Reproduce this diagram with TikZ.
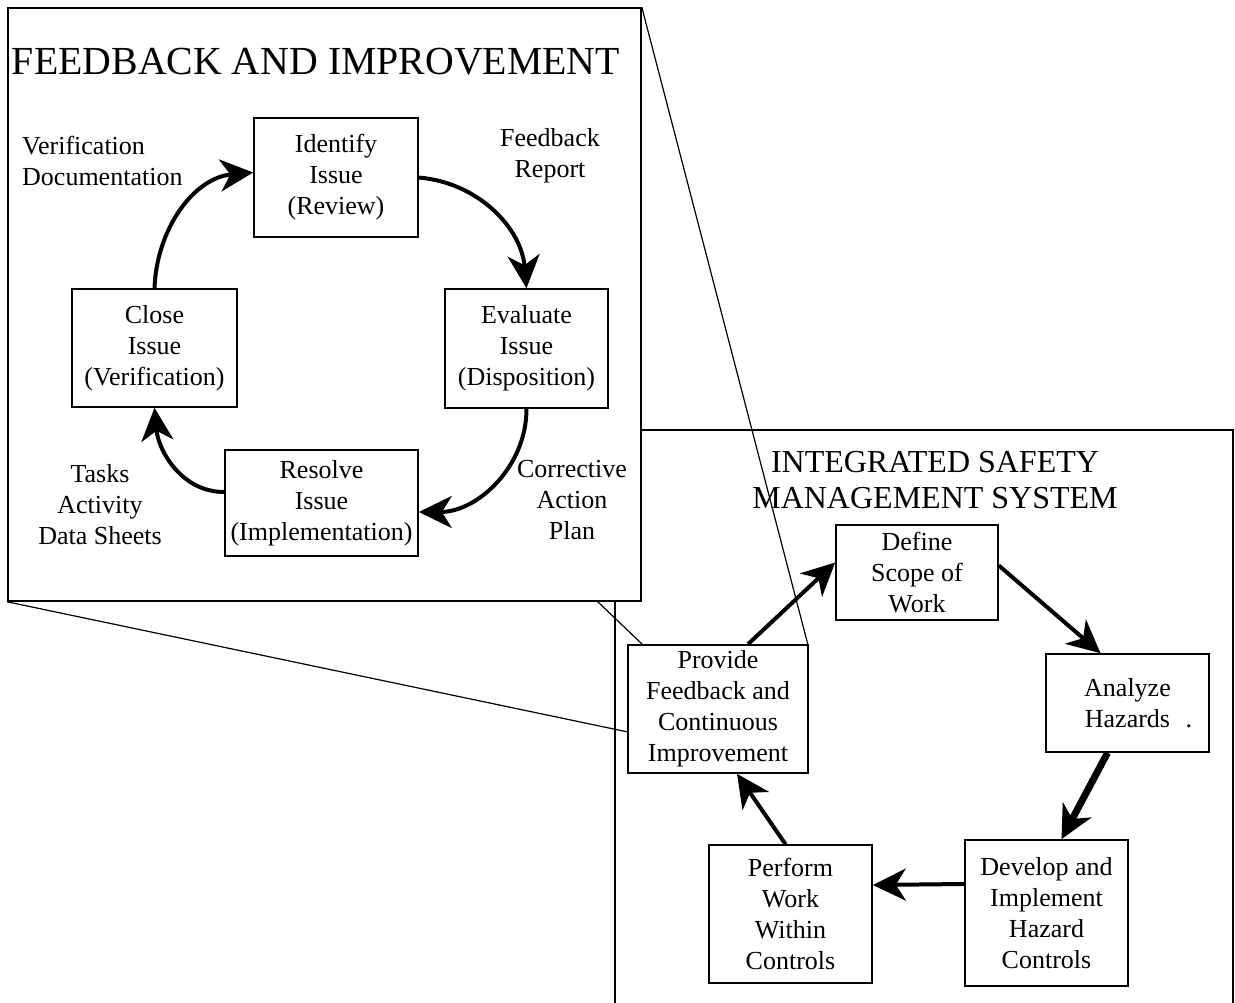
\documentclass[tikz,border=0pt]{standalone}
\usepackage{fontspec}
\setmainfont{Liberation Serif}
\usetikzlibrary{arrows.meta}
\usetikzlibrary{calc}
\usetikzlibrary{positioning}
\newcommand{\boxfont}{\fontsize{26}{31}\selectfont}
\newcommand{\bigtitlefont}{\fontsize{39.8}{48}\selectfont}
\newcommand{\ismstitlefont}{\fontsize{32}{36}\selectfont}

\begin{document}
\begin{tikzpicture}[x=1pt, y=-1pt,
    stepbox/.style={draw, fill=white, line width=1.6pt, align=center, font=\boxfont, inner sep=0pt},
    note/.style={align=center, font=\boxfont, inner sep=0pt},
    flow/.style={line width=4pt, -{Stealth[length=33pt, width=32pt, inset=10pt]}},
    zoomline/.style={line width=1.2pt}]
\useasboundingbox (0,0) rectangle (1235,1003);

% ISMS frame (open at the bottom)
\draw[line width=1.6pt] (615,1003) -- (615,430) -- (1233,430) -- (1233,1003);
\node[font=\ismstitlefont, align=center, inner sep=0pt] (ismstitle) at (935,480) {INTEGRATED SAFETY\\MANAGEMENT SYSTEM};

% feedback frame
\node[draw, fill=white, line width=1.6pt, minimum width=633pt, minimum height=593pt, inner sep=0pt] (fbframe) at (324.5,304.5) {};
\node[font=\bigtitlefont, inner sep=0pt] (fbtitle) at (316,62) {FEEDBACK AND IMPROVEMENT};

\node[stepbox, minimum width=164pt, minimum height=119pt] (identify) at (336,177.5) {Identify\\Issue\\(Review)};
\node[stepbox, minimum width=163pt, minimum height=119pt] (evaluate) at (526.5,348.5) {Evaluate\\Issue\\(Disposition)};
\node[stepbox, minimum width=165pt, minimum height=118pt] (close) at (154.5,348) {Close\\Issue\\(Verification)};
\node[stepbox, minimum width=193pt, minimum height=106pt] (resolve) at (321.5,503) {Resolve\\Issue\\(Implementation)};

\node[note, align=left, anchor=west] (verifdoc) at (22,160.5) {Verification\\Documentation};
\node[note] (fbreport) at (550,155.5) {Feedback\\Report};
\node[note] (tasks) at (100,505) {Tasks\\Activity\\Data Sheets};
\node[note] (corrective) at (572,500) {Corrective\\Action\\Plan};

\draw[flow] (identify.east) to[out=-5, in=95] (evaluate.north);
\draw[flow] (evaluate.south) to[out=-90, in=0] ([yshift=-9pt]resolve.east);
\draw[flow] ([yshift=11pt]resolve.west) to[out=180, in=-85] (close.south);
\draw[flow] (close.north) to[out=88, in=185] ([yshift=5pt]identify.west);

% zoom lines
\coordinate (zoomfoot) at (597,601);
\coordinate (provideleft) at (628,732);
\coordinate (providetop) at (643,645);
\draw[zoomline] (fbframe.north east) -- (808,645);
\draw[zoomline] (fbframe.south west) -- (provideleft);
\draw[zoomline] (zoomfoot) -- (providetop);

% ISMS cycle
\node[stepbox, minimum width=180pt, minimum height=128pt] (provide) at (718,709) {Provide\\Feedback and\\Continuous\\Improvement};
\node[stepbox, minimum width=162pt, minimum height=95pt] (define) at (917,572.5) {Define\\Scope of\\Work};
\node[stepbox, minimum width=163pt, minimum height=98pt] (analyze) at (1127.5,703) {Analyze\\Hazards\rlap{\hspace{0.6em}.}};
\node[stepbox, minimum width=163pt, minimum height=146pt] (develop) at (1046.5,913) {Develop and\\Implement\\Hazard\\Controls};
\node[stepbox, minimum width=163pt, minimum height=138pt] (perform) at (790.5,914) {Perform\\Work\\Within\\Controls};

\draw[flow] ([xshift=30pt]provide.north) -- ([yshift=10pt]define.west);
\draw[flow] ([yshift=7pt]define.east) -- ([xshift=-27pt]analyze.north);
\draw[flow, line width=7pt] ([xshift=-20pt]analyze.south) -- ([xshift=15pt]develop.north);
\draw[flow] ([yshift=29pt]develop.west) -- ([yshift=29pt]perform.east);
\draw[flow] ([xshift=-5pt]perform.north) -- ([xshift=19pt]provide.south);
\end{tikzpicture}
\end{document}
